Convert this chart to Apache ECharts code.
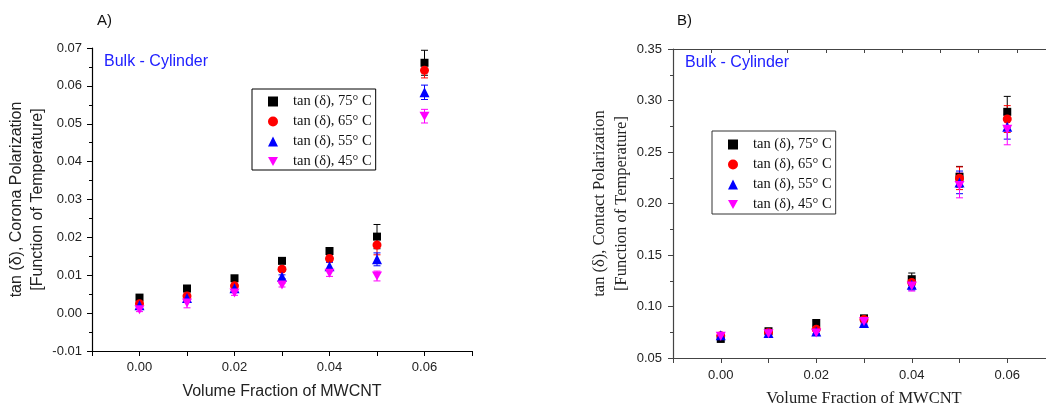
<!DOCTYPE html>
<html lang="en">
<head>
    <meta charset="UTF-8">
    <title>tan delta vs MWCNT</title>
    <style>html,body{margin:0;padding:0;background:#fff}</style>
</head>
<body>
<div id="main" style="width: 1046px;height:407px;"></div>
<script src="https://cdn.jsdelivr.net/npm/echarts@6/dist/echarts.min.js"></script>
<script>
    // volume fraction of MWCNT
    var xs = [0, 0.01, 0.02, 0.03, 0.04, 0.05, 0.06];
    var names = ['tan (δ), 75° C', 'tan (δ), 65° C', 'tan (δ), 55° C', 'tan (δ), 45° C'];

    // A) corona polarization
    var corona75 = [0.0041, 0.0065, 0.0092, 0.0138, 0.0164, 0.0202, 0.0661];
    var corona65 = [0.0025, 0.0045, 0.0072, 0.0116, 0.0144, 0.0180, 0.0641];
    var corona55 = [0.0021, 0.0040, 0.0066, 0.0096, 0.0124, 0.0142, 0.0583];
    var corona45 = [0.0009, 0.0027, 0.0053, 0.0074, 0.0105, 0.0098, 0.0520];
    var corona75Err = [0.0006, 0.0008, 0.0006, 0.0004, 0.0008, 0.0032, 0.0033];
    var corona65Err = [0.0005, 0.0008, 0.0007, 0.0006, 0.0007, 0.0026, 0.0020];
    var corona55Err = [0.0004, 0.0006, 0.0006, 0.0005, 0.0010, 0.0017, 0.0019];
    var corona45Err = [0.0005, 0.0013, 0.0006, 0.0005, 0.0008, 0.0013, 0.0018];

    // B) contact polarization
    var contact75 = [0.0685, 0.0760, 0.0840, 0.0885, 0.1265, 0.2260, 0.2890];
    var contact65 = [0.0715, 0.0748, 0.0780, 0.0875, 0.1233, 0.2245, 0.2820];
    var contact55 = [0.0722, 0.0742, 0.0758, 0.0840, 0.1210, 0.2205, 0.2745];
    var contact45 = [0.0712, 0.0736, 0.0742, 0.0855, 0.1200, 0.2175, 0.2720];
    var contact75Err = [0.002, 0.002, 0.002, 0.002, 0.006, 0.010, 0.015];
    var contact65Err = [0.002, 0.002, 0.002, 0.002, 0.005, 0.011, 0.013];
    var contact55Err = [0.002, 0.002, 0.002, 0.002, 0.005, 0.011, 0.012];
    var contact45Err = [0.002, 0.002, 0.002, 0.002, 0.005, 0.012, 0.015];

    var colors = ['#000000', '#ff0000', '#0000ff', '#ff00ff'];
    var symbols = ['rect', 'circle', 'triangle', 'path://M0,0L10,0L5,9Z'];
    var sizes = [8, 9, 10, [10, 9]];

    var sans = 'Liberation Sans, Arial, sans-serif';
    var serif = 'Liberation Serif, Times New Roman, serif';

    function pairs(vals, errs) {
        return xs.map(function (x, i) { return [x, vals[i], errs[i]]; });
    }

    function errBar(color) {
        return function (params, api) {
            var x = api.value(0), y = api.value(1), e = api.value(2);
            var hi = api.coord([x, y + e]);
            var lo = api.coord([x, y - e]);
            var w = 3.5;
            var st = { stroke: color, lineWidth: 1 };
            return {
                type: 'group',
                children: [
                    { type: 'line', shape: { x1: hi[0], y1: hi[1], x2: lo[0], y2: lo[1] }, style: st },
                    { type: 'line', shape: { x1: hi[0] - w, y1: hi[1], x2: hi[0] + w, y2: hi[1] }, style: st },
                    { type: 'line', shape: { x1: lo[0] - w, y1: lo[1], x2: lo[0] + w, y2: lo[1] }, style: st }
                ]
            };
        };
    }

    function addSeries(list, idx, vals, errs) {
        [0, 1, 2, 3].forEach(function (k) {
            list.push({
                type: 'custom',
                xAxisIndex: idx, yAxisIndex: idx,
                renderItem: errBar(colors[k]),
                data: pairs(vals[k], errs[k]),
                silent: true
            });
            list.push({
                type: 'scatter',
                name: names[k],
                xAxisIndex: idx, yAxisIndex: idx,
                symbol: symbols[k],
                symbolSize: sizes[k],
                itemStyle: { color: colors[k], opacity: 1 },
                data: xs.map(function (x, i) { return [x, vals[k][i]]; })
            });
        });
    }

    var series = [];
    addSeries(series, 0, [corona75, corona65, corona55, corona45],
        [corona75Err, corona65Err, corona55Err, corona45Err]);
    addSeries(series, 1, [contact75, contact65, contact55, contact45],
        [contact75Err, contact65Err, contact55Err, contact45Err]);

    function xLabel(v) {
        return Math.round(v * 100) % 2 === 0 ? v.toFixed(2) : '';
    }

    function legendAt(left, top, pad, border) {
        return {
            data: names,
            orient: 'vertical',
            left: left, top: top,
            padding: pad,
            itemGap: 5,
            itemWidth: 10, itemHeight: 10,
            borderColor: border, borderWidth: 1,
            selectedMode: false,
            textStyle: {
                fontFamily: serif, fontSize: 14.5, color: '#111',
                lineHeight: 15, padding: [0, 0, 0, 10]
            }
        };
    }

    var myChart = echarts.init(document.getElementById('main'));
    myChart.setOption({
        animation: false,
        backgroundColor: '#fff',
        grid: [
            { left: 92, top: 48, right: 574, bottom: 56, outerBoundsMode: 'none' },
            { left: 673, top: 49, right: -9, bottom: 49, outerBoundsMode: 'none' }
        ],
        legend: [
            legendAt(252, 89, [5, 4, 1, 16], '#000'),
            legendAt(712, 131, [6, 4, 2, 16], '#333')
        ],
        xAxis: [
            {
                type: 'value', gridIndex: 0, min: -0.01, max: 0.07, interval: 0.01,
                splitLine: { show: false },
                axisLine: { onZero: false, lineStyle: { color: '#000', width: 1.2 } },
                axisTick: { length: 5, lineStyle: { color: '#000' } },
                axisLabel: { formatter: xLabel, margin: 10, fontFamily: sans, fontSize: 13, color: '#222' },
                name: 'Volume Fraction of MWCNT', nameLocation: 'middle', nameGap: 33,
                nameTextStyle: { fontFamily: sans, fontSize: 16, color: '#222' }
            },
            {
                type: 'value', gridIndex: 1, min: -0.01, max: 0.07, interval: 0.01,
                splitLine: { show: false },
                axisLine: { onZero: false, lineStyle: { color: '#444', width: 1.2 } },
                axisTick: { length: 5, lineStyle: { color: '#444' } },
                axisLabel: { formatter: xLabel, margin: 11, fontFamily: sans, fontSize: 13, color: '#222' },
                name: 'Volume Fraction of MWCNT', nameLocation: 'middle', nameGap: 32,
                nameTextStyle: { fontFamily: serif, fontSize: 16.5, color: '#222' }
            },
            {
                // top frame line of panel B
                type: 'value', gridIndex: 1, position: 'top', min: 0, max: 10, interval: 1,
                splitLine: { show: false },
                axisLine: { onZero: false, lineStyle: { color: '#444', width: 1.2 } },
                axisTick: { inside: true, length: 4, lineStyle: { color: '#444' } },
                axisLabel: { show: false }
            }
        ],
        yAxis: [
            {
                type: 'value', gridIndex: 0, min: -0.01, max: 0.07, interval: 0.01,
                splitLine: { show: false },
                axisLine: { show: true, onZero: false, lineStyle: { color: '#000', width: 1.2 } },
                axisTick: { show: true, length: 5, lineStyle: { color: '#000' } },
                minorTick: { show: true, splitNumber: 2, length: 3, lineStyle: { color: '#000' } },
                axisLabel: { formatter: function (v) { return v.toFixed(2); }, margin: 10, fontFamily: sans, fontSize: 13, color: '#222' },
                name: 'tan (δ), Corona Polarization\n[Function of Temperature]',
                nameLocation: 'middle', nameGap: 43,
                nameTextStyle: { fontFamily: sans, fontSize: 16, lineHeight: 21, color: '#222' }
            },
            {
                type: 'value', gridIndex: 1, min: 0.05, max: 0.35, interval: 0.05,
                splitLine: { show: false },
                axisLine: { show: true, onZero: false, lineStyle: { color: '#444', width: 1.2 } },
                axisTick: { show: true, length: 5, lineStyle: { color: '#444' } },
                minorTick: { show: true, splitNumber: 2, length: 3, lineStyle: { color: '#444' } },
                axisLabel: { formatter: function (v) { return v.toFixed(2); }, margin: 11, fontFamily: sans, fontSize: 13, color: '#222' },
                name: 'tan (δ), Contact Polarization\n[Function of Temperature]',
                nameLocation: 'middle', nameGap: 39,
                nameTextStyle: { fontFamily: serif, fontSize: 16.5, lineHeight: 22, color: '#222' }
            }
        ],
        graphic: [
            { type: 'text', left: 97, top: 13, style: { text: 'A)', font: '15px ' + sans, fill: '#111' } },
            { type: 'text', left: 677, top: 13, style: { text: 'B)', font: '15px ' + sans, fill: '#111' } },
            { type: 'text', left: 104, top: 54, style: { text: 'Bulk - Cylinder', font: '16px ' + sans, fill: '#2020ff' } },
            { type: 'text', left: 685, top: 55, style: { text: 'Bulk - Cylinder', font: '16px ' + sans, fill: '#2020ff' } }
        ],
        series: series
    });
</script>
</body>
</html>
